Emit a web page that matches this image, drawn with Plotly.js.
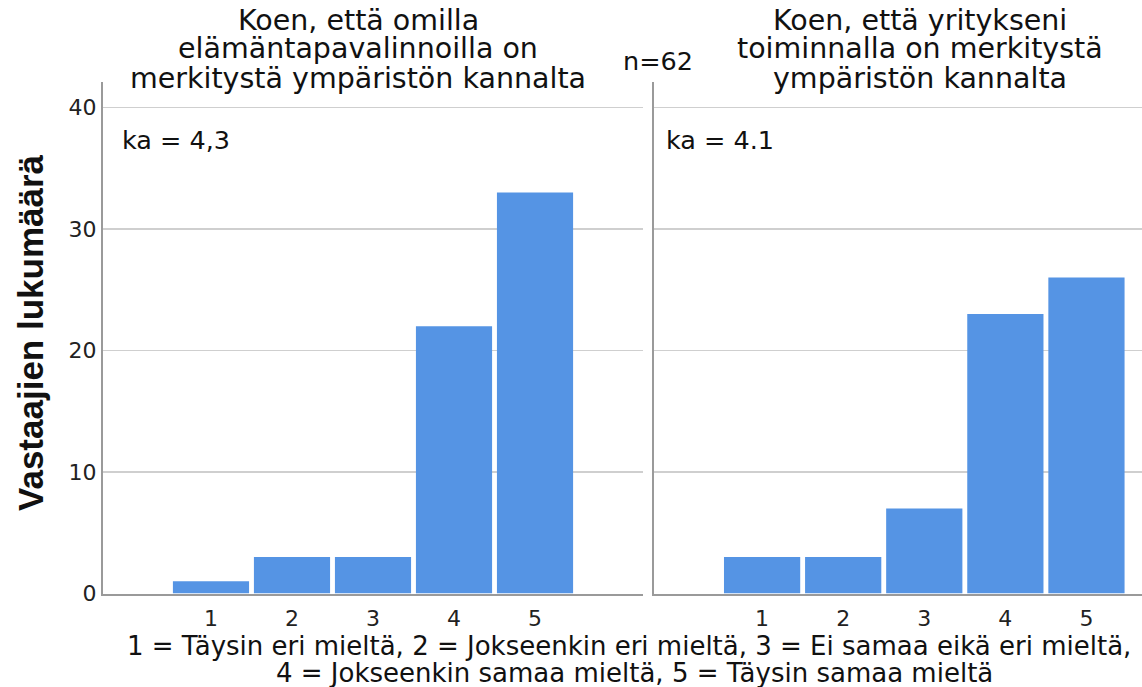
<!DOCTYPE html>
<html>
<head>
<meta charset="utf-8">
<script src="https://cdn.plot.ly/plotly-3.0.1.min.js"></script>
<style>html,body{margin:0;padding:0;background:#fff;}#chart{width:1142px;height:687px;}</style>
</head>
<body>
<div id="chart"></div>
<script>
const categories = [1, 2, 3, 4, 5];
const tickLabels = ["1", "2", "3", "4", "5"];
const countsLifestyle = [1, 3, 3, 22, 33];
const countsCompany = [3, 3, 7, 23, 26];
const panelTitleLeft = ["Koen, että omilla", "elämäntapavalinnoilla on", "merkitystä ympäristön kannalta"];
const panelTitleRight = ["Koen, että yritykseni", "toiminnalla on merkitystä", "ympäristön kannalta"];
const meanLabels = ["ka = 4,3", "ka = 4.1"];
const nLabel = "n=62";
const yTitle = "Vastaajien lukumäärä";
const xTitleLines = ["1 = Täysin eri mieltä, 2 = Jokseenkin eri mieltä, 3 = Ei samaa eikä eri mieltä,",
                     "4 = Jokseenkin samaa mieltä, 5 = Täysin samaa mieltä"];

const W = 1142, H = 687;
const px = v => v / W;
const py = v => 1 - v / H;
const FONT = "DejaVu Sans, Lucida Grande, sans-serif";
const BOLDFONT = "Liberation Sans, Arial, sans-serif";
const barColor = "#5594e4";
const textColor = "#111";

const traces = [
  {type: "bar", x: categories, y: countsLifestyle, xaxis: "x", yaxis: "y", marker: {color: barColor}},
  {type: "bar", x: categories, y: countsCompany, xaxis: "x2", yaxis: "y2", marker: {color: barColor}}
];

const xCommon = {
  tickvals: categories, ticktext: tickLabels, showgrid: false, zeroline: false,
  showline: true, linecolor: "#9a9a9a", linewidth: 2, ticks: "", ticklabelstandoff: 4,
  tickfont: {family: FONT, size: 22, color: "#222"}, fixedrange: true
};
const yCommon = {
  range: [0, 42.1], tickvals: [0, 10, 20, 30, 40], showgrid: true, gridcolor: "#cfcfcf", gridwidth: 1.5,
  zeroline: false, showline: true, linecolor: "#9a9a9a", linewidth: 2, ticks: "",
  domain: [py(593.5), py(82)], fixedrange: true
};

const annotations = [];
function addText(text, x, y, size, opts) {
  annotations.push(Object.assign({xref: "paper", yref: "paper", x: px(x), y: py(y), xanchor: "center", yanchor: "middle",
    showarrow: false, text: text, font: {family: FONT, size: size, color: textColor}}, opts || {}));
}
const titleCenters = [20, 49, 79];
panelTitleLeft.forEach((t, i) => addText(t, 358, titleCenters[i], 28.5));
panelTitleRight.forEach((t, i) => addText(t, 920, titleCenters[i], 28.5));
addText(nLabel, 658, 61, 25.5);
addText(meanLabels[0], 120, 140, 25.5, {xanchor: "left"});
addText(meanLabels[1], 664, 140, 25.5, {xanchor: "left"});
addText("<b>" + yTitle + "</b>", 30, 333, 35, {textangle: -90, font: {family: BOLDFONT, size: 35, color: textColor}});
addText(xTitleLines[0], 629, 646, 26);
addText(xTitleLines[1], 634, 673, 26);

const layout = {
  width: W, height: H,
  margin: {l: 0, r: 0, t: 0, b: 0},
  paper_bgcolor: "#fff", plot_bgcolor: "#fff",
  showlegend: false, bargap: 0.06,
  font: {family: FONT, color: textColor},
  xaxis: Object.assign({}, xCommon, {domain: [px(103), px(643)], range: [-0.333, 6.333], anchor: "y"}),
  xaxis2: Object.assign({}, xCommon, {domain: [px(654), 1], range: [-0.333, 5.685], anchor: "y2"}),
  yaxis: Object.assign({}, yCommon, {anchor: "x", tickfont: {family: FONT, size: 22, color: "#222"}, ticklabelstandoff: 0}),
  yaxis2: Object.assign({}, yCommon, {anchor: "x2", showticklabels: false}),
  annotations: annotations
};

Plotly.newPlot("chart", traces, layout, {displayModeBar: false, staticPlot: true});
</script>
</body>
</html>
